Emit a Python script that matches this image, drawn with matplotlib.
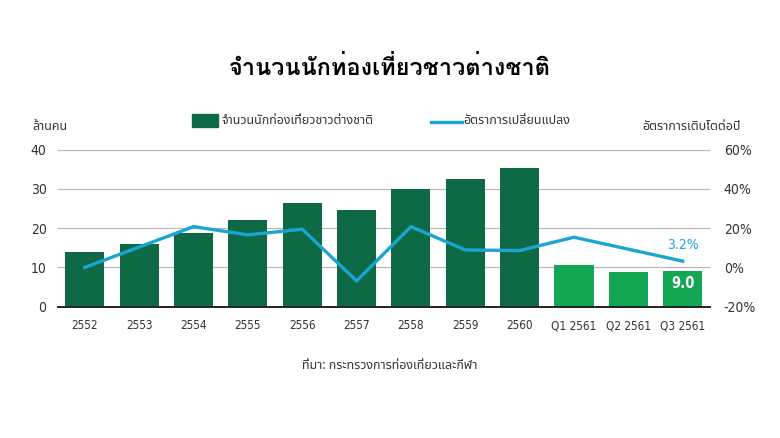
import matplotlib
matplotlib.use('Agg')
import matplotlib.pyplot as plt
import numpy as np

# data
years = ['2552', '2553', '2554', '2555', '2556', '2557', '2558', '2559', '2560',
         'Q1 2561', 'Q2 2561', 'Q3 2561']
tourists = [13.9, 15.9, 18.9, 22.1, 26.5, 24.7, 29.9, 32.6, 35.4, 10.6, 8.8, 9.0]
growth = [0.0, 10.4, 20.8, 16.6, 19.5, -6.9, 20.8, 8.9, 8.6, 15.4, 9.3, 3.2]
bar_colors = ['#0d6a45'] * 9 + ['#13a653'] * 3

title = 'จำนวนนักท่องเที่ยวชาวต่างชาติ'
bar_label = 'จำนวนนักท่องเที่ยวชาวต่างชาติ'
line_label = 'อัตราการเปลี่ยนแปลง'
left_unit = 'ล้านคน'
right_unit = 'อัตราการเติบโตต่อปี'
source = 'ที่มา: กระทรวงการท่องเที่ยวและกีฬา'

num_font = ['DejaVu Sans', 'Noto Sans Thai']
txt_font = ['Noto Sans Thai', 'DejaVu Sans']
title_font = ['Loma', 'Noto Sans Thai Looped', 'DejaVu Sans']
line_color = '#1aa5d2'
grey = '#333333'

fig = plt.figure(figsize=(7.8, 4.38), dpi=100)
ax = fig.add_axes([0.074, 0.30, 0.836, 0.358])
x = np.arange(len(years))
ax.bar(x, tourists, width=0.72, color=bar_colors, zorder=3)
ax.set_ylim(0, 40)
ax.set_xlim(-0.5, len(years) - 0.5)
ax.set_yticks([0, 10, 20, 30, 40])
ax.grid(axis='y', color='#b5b5b5', linewidth=0.8, zorder=0)
ax.set_xticks(x)
ax.set_xticklabels(years, family=num_font, stretch='condensed', fontsize=8.5, color=grey)
for lab in ax.get_yticklabels():
    lab.set_family(num_font)
    lab.set_stretch('condensed')
    lab.set_fontsize(10)
    lab.set_color(grey)
ax.tick_params(length=0, pad=8)
ax.tick_params(axis='x', pad=9)
for s in ['left', 'right', 'top']:
    ax.spines[s].set_visible(False)
ax.spines['bottom'].set_color('#222222')
ax.spines['bottom'].set_linewidth(1.4)
ax.spines['bottom'].set_zorder(5)

ax2 = ax.twinx()
ax2.plot(x, growth, color=line_color, linewidth=2.4, zorder=4)
ax2.set_ylim(-20, 60)
ax2.set_yticks([-20, 0, 20, 40, 60])
ax2.set_yticklabels(['%d%%' % v for v in [-20, 0, 20, 40, 60]],
                    family=num_font, stretch='condensed', fontsize=10, color=grey)
ax2.tick_params(length=0, pad=10)
for s in ax2.spines.values():
    s.set_visible(False)

ax.text(x[-1], tourists[-1] - 1.2, '%.1f' % tourists[-1], ha='center', va='top',
        color='white', fontsize=10.5, family=num_font, stretch='condensed',
        fontweight='bold', zorder=6)
ax2.text(x[-1], growth[-1] + 4.5, '%.1f%%' % growth[-1], ha='center', va='bottom',
         color=line_color, fontsize=10, family=num_font, stretch='condensed', zorder=6)

fig.text(0.5, 0.845, title, ha='center', va='center', fontsize=17,
         fontweight='bold', family=title_font)

# legend
fig.patches.append(plt.Rectangle((0.246, 0.71), 0.034, 0.03, transform=fig.transFigure,
                                 color='#0d6a45'))
fig.text(0.284, 0.725, bar_label, va='center', fontsize=9, family=txt_font, color=grey)
fig.lines.append(plt.Line2D([0.553, 0.592], [0.722, 0.722], transform=fig.transFigure,
                            color=line_color, linewidth=2.4))
fig.text(0.594, 0.725, line_label, va='center', fontsize=9, family=txt_font, color=grey)
fig.text(0.042, 0.712, left_unit, va='center', fontsize=9, family=txt_font, color=grey)
fig.text(0.95, 0.712, right_unit, va='center', ha='right', fontsize=9, family=txt_font,
         color=grey)
fig.text(0.5, 0.165, source, ha='center', va='center', fontsize=9, family=txt_font,
         color=grey)

fig.savefig('out.png', dpi=100, facecolor='white')
